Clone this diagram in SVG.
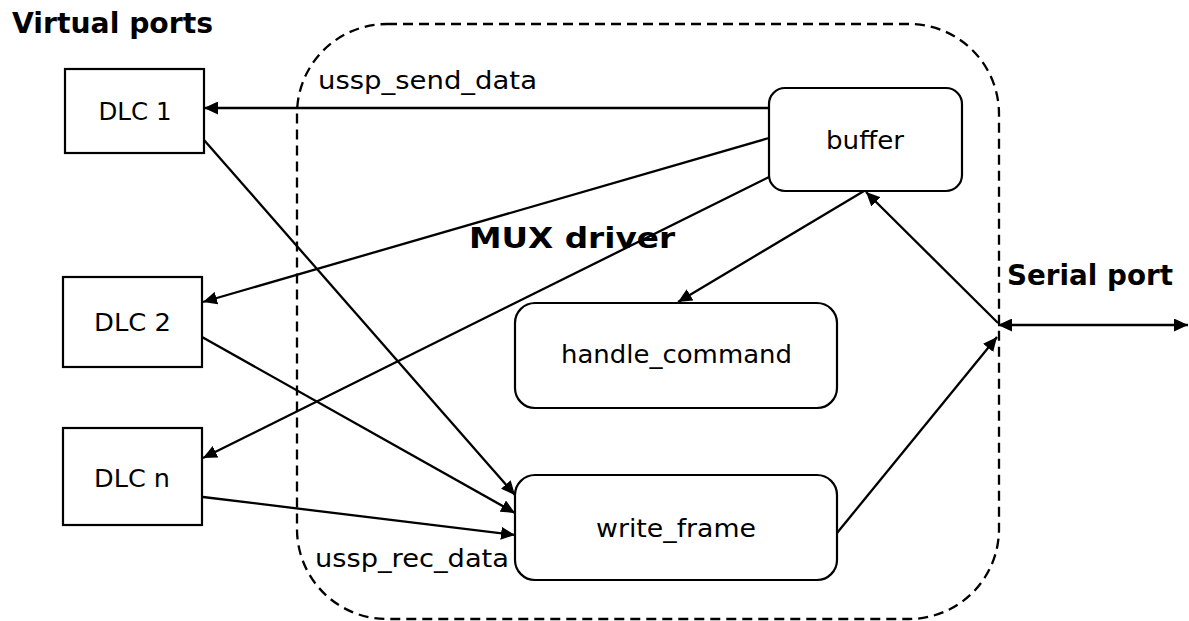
<svg xmlns="http://www.w3.org/2000/svg" width="1189" height="621" viewBox="0 0 1189 621">
<style>
  .box { fill: #ffffff; stroke: #000000; stroke-width: 2.2; }
  .lbl { font-family: "DejaVu Sans", "Liberation Sans", sans-serif; font-size: 24px; fill: #000000; }
  .ttl { font-family: "DejaVu Sans", "Liberation Sans", sans-serif; font-weight: bold; font-size: 28px; fill: #000000; }
  .conn { fill: none; stroke: #000000; stroke-width: 2.3; }
  .arr { marker-end: url(#ah); }
  .dash { fill: none; stroke: #000000; stroke-width: 2.3; stroke-dasharray: 10 6; }
</style>
<defs>
  <marker id="ah" viewBox="0 0 14 13" refX="14" refY="6.5" markerWidth="14" markerHeight="13" markerUnits="userSpaceOnUse" orient="auto-start-reverse">
    <path d="M0,0 L14,6.5 L0,13 z" fill="#000000"/>
  </marker>
</defs>
<rect width="1189" height="621" fill="#ffffff"/>

<g id="mux-driver">
  <rect class="dash" x="297" y="24" width="702" height="595" rx="90" ry="90"/>
  <text class="ttl" x="469" y="248" font-size="32" textLength="206" lengthAdjust="spacingAndGlyphs">MUX driver</text>
</g>

<g id="title-virtual">
  <text class="ttl" x="12" y="33" textLength="201" lengthAdjust="spacingAndGlyphs">Virtual ports</text>
</g>
<g id="title-serial">
  <text class="ttl" x="1007" y="285" textLength="166" lengthAdjust="spacingAndGlyphs">Serial port</text>
</g>

<g id="connectors">
  <line class="conn arr" x1="769" y1="108" x2="204" y2="108"/>
  <line class="conn arr" x1="769" y1="138" x2="203" y2="302"/>
  <line class="conn arr" x1="769" y1="177" x2="203" y2="458"/>
  <line class="conn arr" x1="864" y1="191" x2="678" y2="302"/>
  <line class="conn arr" x1="998" y1="323" x2="866" y2="192"/>
  <line class="conn arr" x1="837" y1="533" x2="997" y2="337"/>
  <line class="conn" x1="998" y1="325" x2="1188" y2="325" marker-start="url(#ah)" marker-end="url(#ah)"/>
  <line class="conn arr" x1="204" y1="140" x2="515" y2="495"/>
  <line class="conn arr" x1="202" y1="337" x2="515" y2="513"/>
  <line class="conn arr" x1="203" y1="497" x2="515" y2="535"/>
  <text class="lbl" x="318" y="89" textLength="219" lengthAdjust="spacingAndGlyphs">ussp_send_data</text>
  <text class="lbl" x="315" y="567" textLength="194" lengthAdjust="spacingAndGlyphs">ussp_rec_data</text>
</g>

<g id="dlc1">
  <rect class="box" x="65" y="69" width="139" height="84"/>
  <text class="lbl" x="135" y="120" text-anchor="middle" textLength="73" lengthAdjust="spacingAndGlyphs">DLC 1</text>
</g>
<g id="dlc2">
  <rect class="box" x="63" y="277" width="139" height="90"/>
  <text class="lbl" x="132.5" y="331" text-anchor="middle" textLength="77" lengthAdjust="spacingAndGlyphs">DLC 2</text>
</g>
<g id="dlcn">
  <rect class="box" x="63" y="428" width="139" height="97"/>
  <text class="lbl" x="132" y="487" text-anchor="middle" textLength="76" lengthAdjust="spacingAndGlyphs">DLC n</text>
</g>

<g id="buffer">
  <rect class="box" x="769" y="88" width="193" height="103" rx="16" ry="16"/>
  <text class="lbl" x="865" y="149" text-anchor="middle" textLength="78" lengthAdjust="spacingAndGlyphs">buffer</text>
</g>
<g id="handle_command">
  <rect class="box" x="515" y="303" width="322" height="105" rx="20" ry="20"/>
  <text class="lbl" x="676.5" y="363" text-anchor="middle" textLength="231" lengthAdjust="spacingAndGlyphs">handle_command</text>
</g>
<g id="write_frame">
  <rect class="box" x="515" y="475" width="322" height="105" rx="20" ry="20"/>
  <text class="lbl" x="676" y="537" text-anchor="middle" textLength="160" lengthAdjust="spacingAndGlyphs">write_frame</text>
</g>
</svg>
